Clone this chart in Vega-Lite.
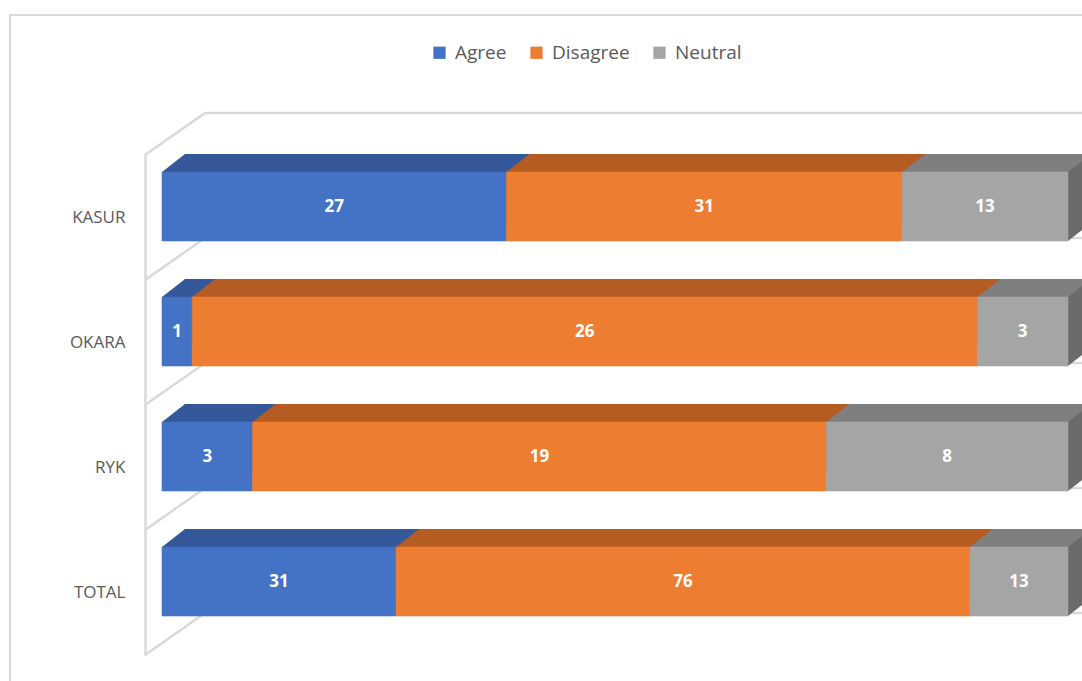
{
  "$schema": "https://vega.github.io/schema/vega-lite/v6.json",
  "width": 1080,
  "height": 680,
  "autosize": {"type": "none"},
  "padding": {"left": 10, "top": 15, "right": 0, "bottom": 0},
  "background": "white",
  "config": {
    "view": {"stroke": "#d9d9d9", "strokeWidth": 2},
    "font": "Open Sans"
  },
  "data": {
    "values": [
      {"Region": "KASUR", "Response": "Agree", "Count": 27},
      {"Region": "KASUR", "Response": "Disagree", "Count": 31},
      {"Region": "KASUR", "Response": "Neutral", "Count": 13},
      {"Region": "OKARA", "Response": "Agree", "Count": 1},
      {"Region": "OKARA", "Response": "Disagree", "Count": 26},
      {"Region": "OKARA", "Response": "Neutral", "Count": 3},
      {"Region": "RYK", "Response": "Agree", "Count": 3},
      {"Region": "RYK", "Response": "Disagree", "Count": 19},
      {"Region": "RYK", "Response": "Neutral", "Count": 8},
      {"Region": "TOTAL", "Response": "Agree", "Count": 31},
      {"Region": "TOTAL", "Response": "Disagree", "Count": 76},
      {"Region": "TOTAL", "Response": "Neutral", "Count": 13}
    ]
  },
  "transform": [
    {"stack": "Count", "groupby": ["Region"], "offset": "normalize", "sort": [{"field": "Response", "order": "ascending"}], "as": ["x0", "x1"]},
    {"calculate": "(datum.x0 + datum.x1) / 2", "as": "mid"}
  ],
  "layer": [
    {
      "transform": [{"filter": "datum.Response === 'Agree'"}],
      "mark": {"type": "rule", "color": "#d9d9d9", "strokeWidth": 2.5, "xOffset": 43, "x2Offset": 60, "yOffset": -42},
      "encoding": {
        "y": {"field": "Region", "type": "nominal", "bandPosition": 0,
              "sort": ["KASUR", "OKARA", "RYK", "TOTAL"],
              "scale": {"range": [140, 640], "paddingInner": 0, "paddingOuter": 0},
              "axis": {"title": null, "ticks": false, "domainColor": "#d9d9d9", "domainWidth": 2.5, "offset": -135, "labelPadding": 20, "labelFontSize": 17, "labelColor": "#595959", "labelFont": "Open Sans"}},
        "x": {"datum": 0, "type": "quantitative", "scale": {"domain": [0, 1], "range": [152, 1058]}, "axis": null},
        "x2": {"datum": 1}
      }
    },
    {
      "transform": [{"filter": "datum.Response === 'Agree' && datum.Region === 'TOTAL'"}],
      "mark": {"type": "rule", "color": "#d9d9d9", "strokeWidth": 2.5, "xOffset": 43, "x2Offset": 60, "yOffset": -42},
      "encoding": {
        "y": {"field": "Region", "type": "nominal", "bandPosition": 1, "sort": ["KASUR", "OKARA", "RYK", "TOTAL"]},
        "x": {"datum": 0, "type": "quantitative"},
        "x2": {"datum": 1}
      }
    },
    {
      "transform": [{"filter": "datum.Response === 'Agree'"}],
      "mark": {"type": "rule", "color": "#d9d9d9", "strokeWidth": 2.5, "xOffset": -17, "x2Offset": 43, "y2Offset": -42},
      "encoding": {
        "y": {"field": "Region", "type": "nominal", "bandPosition": 0, "sort": ["KASUR", "OKARA", "RYK", "TOTAL"]},
        "y2": {"field": "Region", "bandPosition": 0},
        "x": {"datum": 0, "type": "quantitative"},
        "x2": {"datum": 0}
      }
    },
    {
      "transform": [{"filter": "datum.Response === 'Agree' && datum.Region === 'TOTAL'"}],
      "mark": {"type": "rule", "color": "#d9d9d9", "strokeWidth": 2.5, "xOffset": -17, "x2Offset": 43, "y2Offset": -42},
      "encoding": {
        "y": {"field": "Region", "type": "nominal", "bandPosition": 1, "sort": ["KASUR", "OKARA", "RYK", "TOTAL"]},
        "y2": {"field": "Region", "bandPosition": 1},
        "x": {"datum": 0, "type": "quantitative"},
        "x2": {"datum": 0}
      }
    },
    {
      "mark": {"type": "bar", "height": 69, "xOffset": 23, "x2Offset": 23, "yOffset": -29},
      "encoding": {
        "y": {"field": "Region", "type": "nominal", "sort": ["KASUR", "OKARA", "RYK", "TOTAL"]},
        "x": {"field": "x0", "type": "quantitative"},
        "x2": {"field": "x1"},
        "color": {"field": "Response", "type": "nominal",
                  "scale": {"domain": ["Agree", "Disagree", "Neutral"], "range": ["#34589A", "#B45C22", "#7F7F7F"]},
                  "legend": null}
      }
    },
    {
      "mark": {"type": "point", "shape": "M0,-34.5L23,-52.5L24,-52.5L24,-34.5Z", "size": 4, "filled": true, "opacity": 1, "strokeWidth": 0, "yOffset": -11},
      "encoding": {
        "y": {"field": "Region", "type": "nominal", "sort": ["KASUR", "OKARA", "RYK", "TOTAL"]},
        "x": {"field": "x0", "type": "quantitative"},
        "color": {"field": "Response", "type": "nominal",
                  "scale": {"domain": ["Agree", "Disagree", "Neutral"], "range": ["#34589A", "#B45C22", "#7F7F7F"]},
                  "legend": null}
      }
    },
    {
      "transform": [{"filter": "datum.Response === 'Neutral'"}],
      "mark": {"type": "point", "shape": "M0,-34.5L23,-52.5L23,16.5L0,34.5Z", "size": 4, "filled": true, "opacity": 1, "strokeWidth": 0, "yOffset": -11, "color": "#6B6B6B"},
      "encoding": {
        "y": {"field": "Region", "type": "nominal", "sort": ["KASUR", "OKARA", "RYK", "TOTAL"]},
        "x": {"field": "x1", "type": "quantitative"}
      }
    },
    {
      "mark": {"type": "bar", "height": 69, "yOffset": -11, "strokeWidth": 0.6},
      "encoding": {
        "y": {"field": "Region", "type": "nominal", "sort": ["KASUR", "OKARA", "RYK", "TOTAL"]},
        "x": {"field": "x0", "type": "quantitative"},
        "x2": {"field": "x1"},
        "stroke": {"field": "Response", "type": "nominal",
                  "scale": {"domain": ["Agree", "Disagree", "Neutral"], "range": ["#4472C4", "#ED7D31", "#A5A5A5"]},
                  "legend": null},
        "fill": {"field": "Response", "type": "nominal",
                  "scale": {"domain": ["Agree", "Disagree", "Neutral"], "range": ["#4472C4", "#ED7D31", "#A5A5A5"]},
                  "legend": {"title": null, "orient": "none", "legendX": 420, "legendY": 28, "direction": "horizontal",
                             "symbolType": "square", "symbolSize": 150, "symbolStrokeWidth": 0, "labelFontSize": 19,
                             "labelColor": "#595959", "labelFont": "Open Sans", "labelOffset": 6, "columnPadding": 20}}
      }
    },
    {
      "mark": {"type": "text", "yOffset": -11, "color": "white", "fontWeight": "bold", "fontSize": 17, "font": "Open Sans", "baseline": "middle", "align": "center"},
      "encoding": {
        "y": {"field": "Region", "type": "nominal", "sort": ["KASUR", "OKARA", "RYK", "TOTAL"]},
        "x": {"field": "mid", "type": "quantitative"},
        "text": {"field": "Count", "type": "quantitative"}
      }
    }
  ],
  "resolve": {"scale": {"color": "independent", "fill": "independent", "stroke": "independent"}}
}
